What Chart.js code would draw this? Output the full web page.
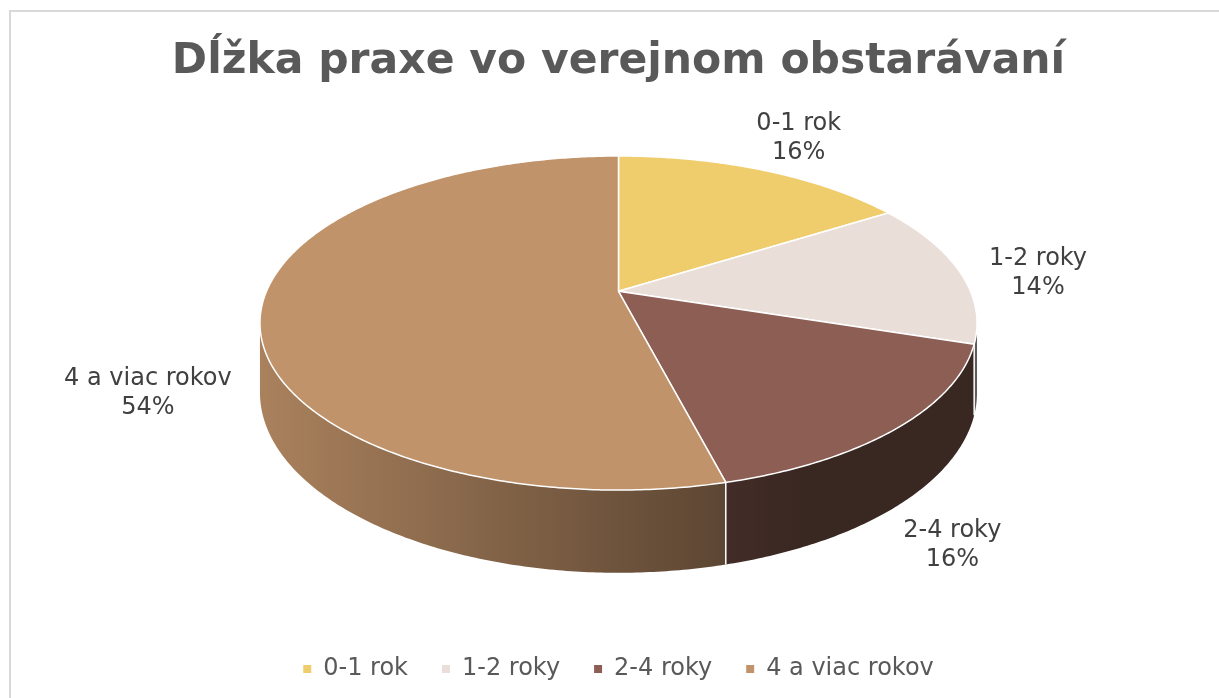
<!DOCTYPE html>
<html>
<head>
<meta charset="utf-8">
<script src="https://cdn.jsdelivr.net/npm/chart.js@4.4.0/dist/chart.umd.min.js"></script>
<style>
  html, body { margin: 0; padding: 0; background: #fff; overflow: hidden; }
  #wrap { position: relative; width: 1219px; height: 698px; }
  #frame { position: absolute; left: 9px; top: 10px; width: 1300px; height: 800px;
           border: 2px solid #d9d9d9; pointer-events: none; }
</style>
</head>
<body>
<div id="wrap">
  <canvas id="chart" width="1219" height="698"></canvas>
  <div id="frame"></div>
</div>
<script>
const chartTitle = "Dĺžka praxe vo verejnom obstarávaní";
const categories = ["0-1 rok", "1-2 roky", "2-4 roky", "4 a viac rokov"];
const shares = [16, 14, 16, 54];
const sliceColors = ["#F0CD6C", "#EADED8", "#8C5E54", "#C1936A"];

const FONT = "'DejaVu Sans', Verdana, sans-serif";

function shade(hex, f) {
  const n = parseInt(hex.slice(1), 16);
  const r = Math.round(((n >> 16) & 255) * f);
  const g = Math.round(((n >> 8) & 255) * f);
  const b = Math.round((n & 255) * f);
  return `rgb(${r},${g},${b})`;
}

// perspective view of the pie plane, a = chart.js arc angle
function project(p, a, r) {
  const X = Math.cos(a) * r, Z = -Math.sin(a) * r;
  const d = 1 + p.k * Z;
  return { x: p.cx + p.rx * X / d, y: p.cy - p.ry * Z / d, d: d };
}

const pie3d = {
  id: "pie3d",
  beforeDatasetDraw(chart, args, opts) {
    const arcs = chart.getDatasetMeta(args.index).data;
    const ctx = chart.ctx;
    const p = {
      cx: arcs[0].x,
      cy: chart.chartArea.top + opts.topGap + opts.ry / (1 + opts.k),
      rx: opts.rx, ry: opts.ry, k: opts.k
    };
    const step = 0.01;
    const vis0 = Math.asin(p.k), vis1 = Math.PI - vis0;
    const half = p.rx / Math.sqrt(1 - p.k * p.k);
    const left = p.cx - half, right = p.cx + half;
    const bottomOf = (a) => {
      const t = project(p, a, 1);
      return { x: t.x, y: t.y + opts.depth / t.d };
    };

    ctx.save();
    // side walls
    arcs.forEach((arc, i) => {
      const a1 = Math.max(arc.startAngle, vis0);
      const a2 = Math.min(arc.endAngle, vis1);
      if (a2 <= a1) return;
      ctx.beginPath();
      let t = project(p, a1, 1);
      ctx.moveTo(t.x, t.y);
      for (let a = a1; a < a2; a += step) {
        t = project(p, a, 1);
        ctx.lineTo(t.x, t.y);
      }
      t = project(p, a2, 1);
      ctx.lineTo(t.x, t.y);
      for (let a = a2; a > a1; a -= step) {
        const b = bottomOf(a);
        ctx.lineTo(b.x, b.y);
      }
      const b1 = bottomOf(a1);
      ctx.lineTo(b1.x, b1.y);
      ctx.closePath();
      const grad = ctx.createLinearGradient(left, 0, right, 0);
      const c = sliceColors[i];
      grad.addColorStop(0, shade(c, 0.88));
      grad.addColorStop(0.66, shade(c, 0.47));
      grad.addColorStop(0.76, shade(c, 0.41));
      grad.addColorStop(1, shade(c, 0.41));
      ctx.fillStyle = grad;
      ctx.fill();
    });
    // white seams on the wall
    ctx.strokeStyle = "#ffffff";
    ctx.lineWidth = 1.5;
    arcs.forEach((arc) => {
      const a = arc.startAngle;
      if (a > vis0 && a < vis1) {
        const t = project(p, a, 1), b = bottomOf(a);
        ctx.beginPath();
        ctx.moveTo(t.x, t.y);
        ctx.lineTo(b.x, b.y);
        ctx.stroke();
      }
    });

    // top faces
    ctx.lineJoin = "round";
    arcs.forEach((arc, i) => {
      ctx.beginPath();
      ctx.moveTo(p.cx, p.cy);
      for (let a = arc.startAngle; a < arc.endAngle; a += step) {
        const t = project(p, a, 1);
        ctx.lineTo(t.x, t.y);
      }
      const e = project(p, arc.endAngle, 1);
      ctx.lineTo(e.x, e.y);
      ctx.closePath();
      ctx.fillStyle = sliceColors[i];
      ctx.fill();
      ctx.stroke();
    });

    // data labels
    const total = shares.reduce((s, v) => s + v, 0);
    ctx.font = `24px ${FONT}`;
    ctx.fillStyle = "#404040";
    ctx.textAlign = "center";
    ctx.textBaseline = "middle";
    const lh = 29, gapX = 30, gapY = 16, nudgeY = 7;
    arcs.forEach((arc, i) => {
      const mid = (arc.startAngle + arc.endAngle) / 2;
      const t = project(p, mid, 1);
      let ay = t.y;
      if (Math.sin(mid) > 0) ay += opts.depth / t.d;
      const lines = [categories[i], Math.round(shares[i] / total * 100) + "%"];
      const hw = Math.max(...lines.map((s) => ctx.measureText(s).width)) / 2;
      const hh = lines.length * lh / 2;
      const x = t.x + Math.cos(mid) * (hw + gapX);
      const y = ay + Math.sin(mid) * (hh + gapY) + nudgeY;
      lines.forEach((s, j) => {
        ctx.fillText(s, x, y - hh + lh / 2 + j * lh);
      });
    });
    ctx.restore();
    return false;
  }
};

new Chart(document.getElementById("chart"), {
  type: "pie",
  data: {
    labels: categories,
    datasets: [{
      data: shares,
      backgroundColor: sliceColors,
      borderWidth: 0
    }]
  },
  plugins: [pie3d],
  options: {
    responsive: false,
    animation: false,
    devicePixelRatio: 1,
    layout: { padding: { left: 18, bottom: 7 } },
    plugins: {
      pie3d: { rx: 352, ry: 161, k: 0.19, depth: 67, topGap: 55 },
      tooltip: { enabled: false },
      title: {
        display: true,
        text: chartTitle,
        color: "#595959",
        font: { family: FONT, size: 42.5, weight: "bold" },
        padding: { top: 36, bottom: 14 }
      },
      legend: {
        position: "bottom",
        labels: {
          boxWidth: 8,
          boxHeight: 8,
          padding: 34,
          color: "#595959",
          font: { family: FONT, size: 24 }
        }
      }
    }
  }
});
</script>
</body>
</html>
